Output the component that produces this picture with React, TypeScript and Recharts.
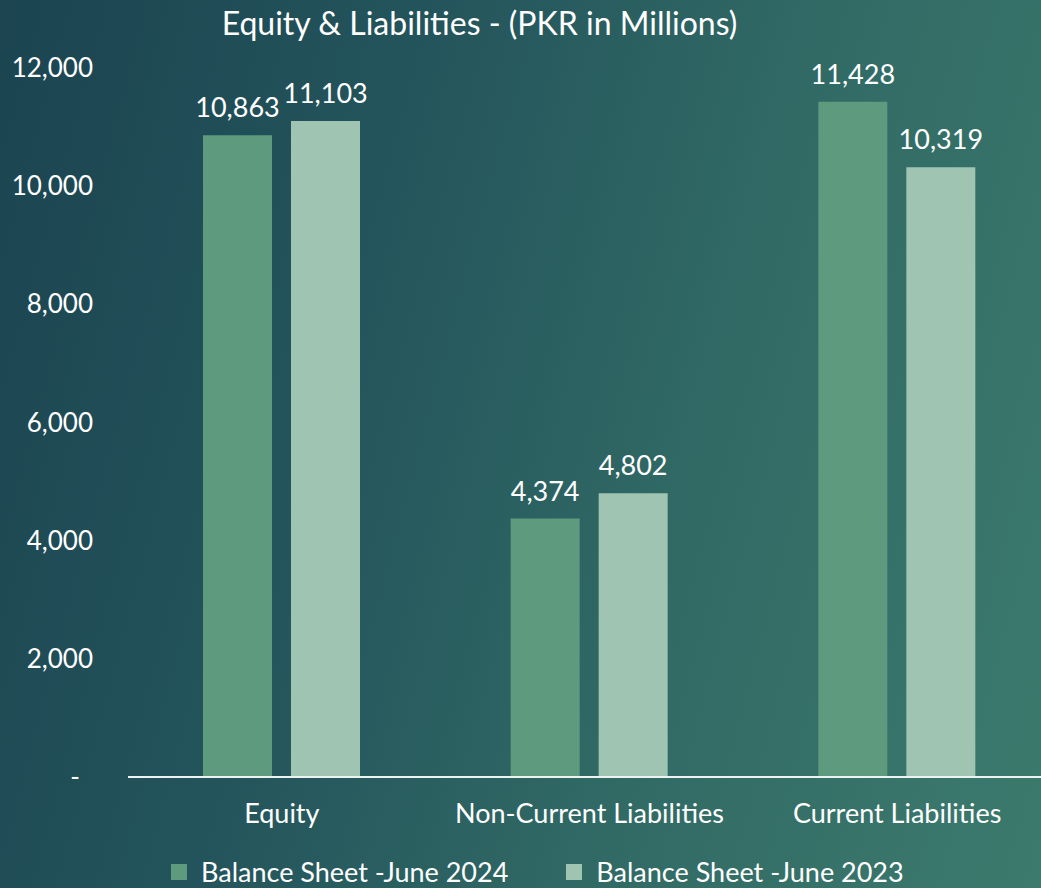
import { BarChart, Bar, XAxis, YAxis, LabelList, Legend } from "recharts";

const categories = ["Equity", "Non-Current Liabilities", "Current Liabilities"];
const june2024 = [10863, 4374, 11428];
const june2023 = [11103, 4802, 10319];
const yTicks = [0, 2000, 4000, 6000, 8000, 10000, 12000];

const SERIES = [
  { key: "a", name: "Balance Sheet -June 2024", color: "#5e9a7e" },
  { key: "b", name: "Balance Sheet -June 2023", color: "#9fc4b2" },
];

const FONT = "Lato, 'Open Sans', sans-serif";

const data = categories.map((name, i) => ({ name, a: june2024[i], b: june2023[i] }));

const fmt = (v: number) => v.toLocaleString("en-US");

function YTick(props: any) {
  const { x, y, payload } = props;
  const v = payload.value as number;
  return (
    <text
      x={x}
      y={y}
      dx={v === 0 ? -13 : 0}
      dy={9}
      textAnchor="end"
      fill="#ffffff"
      fontSize={26}
      fontFamily={FONT}
    >
      {v === 0 ? "-" : fmt(v)}
    </text>
  );
}

function LegendContent(props: any) {
  const payload = [...(props.payload || [])].sort(
    (p: any, q: any) =>
      SERIES.findIndex((s) => s.name === p.value) - SERIES.findIndex((s) => s.name === q.value)
  );
  return (
    <div style={{ display: "flex", alignItems: "center", fontFamily: FONT, fontSize: 27, color: "#fff" }}>
      {payload.map((p: any, i: number) => (
        <div key={i} style={{ display: "flex", alignItems: "center", marginRight: 58 }}>
          <span style={{ width: 16, height: 16, background: p.color, display: "inline-block", marginRight: 14 }} />
          <span style={{ whiteSpace: "nowrap" }}>{p.value}</span>
        </div>
      ))}
    </div>
  );
}

export default function App() {
  return (
    <div
      style={{
        position: "absolute",
        left: 0,
        top: 0,
        width: 1041,
        height: 888,
        overflow: "hidden",
        background: "linear-gradient(105deg, #1b4450 0%, #24555c 35%, #316a65 65%, #3c7a6d 100%)",
      }}
    >
      <div
        style={{
          position: "absolute",
          top: 7,
          left: 0,
          width: 959,
          textAlign: "center",
          color: "#fff",
          fontFamily: FONT,
          fontSize: 32,
          lineHeight: "32px",
          whiteSpace: "nowrap",
        }}
      >
        Equity &amp; Liabilities - (PKR in Millions)
      </div>
      <BarChart
        width={1060}
        height={888}
        data={data}
        margin={{ top: 68, right: 9, bottom: 51, left: 0 }}
        barSize={69}
        barGap={19}
      >
        <XAxis
          dataKey="name"
          height={60}
          tickLine={false}
          tickSize={0}
          tickMargin={27}
          axisLine={{ stroke: "#eef3f1", strokeWidth: 2 }}
          tick={{ fill: "#ffffff", fontSize: 27, fontFamily: FONT }}
          interval={0}
        />
        <YAxis
          width={128}
          domain={[0, 12000]}
          ticks={yTicks}
          axisLine={false}
          tickLine={false}
          tickSize={0}
          tickMargin={35}
          tick={<YTick />}
        />
        <Legend
          layout="horizontal"
          verticalAlign="middle"
          align="center"
          content={<LegendContent />}
          wrapperStyle={{ left: 171, top: 855, bottom: "auto", width: "auto" }}
        />
        {SERIES.map((s) => (
          <Bar key={s.key} dataKey={s.key} name={s.name} fill={s.color} isAnimationActive={false}>
            <LabelList
              dataKey={s.key}
              position="top"
              offset={18}
              fill="#ffffff"
              fontSize={27}
              fontFamily={FONT}
              formatter={(v: any) => fmt(Number(v))}
            />
          </Bar>
        ))}
      </BarChart>
    </div>
  );
}
